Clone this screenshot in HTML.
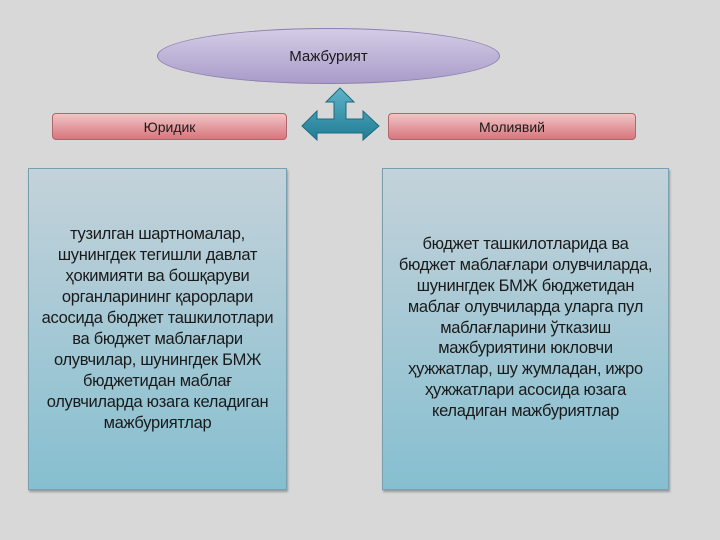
<!DOCTYPE html>
<html><head><meta charset="utf-8"><style>
body{margin:0;width:720px;height:540px;background:#d8d8d8;position:relative;overflow:hidden;font-family:"Liberation Sans","DejaVu Sans",sans-serif;color:#1a1a1a}
.ell{position:absolute;left:157px;top:28px;width:343px;height:56px;border-radius:50%;background:linear-gradient(#d4cce6,#a99cc9);border:1px solid #8c80b0;box-sizing:border-box;display:flex;align-items:center;justify-content:center;font-size:15px}
.tab{position:absolute;top:113px;height:27px;border-radius:4px;background:linear-gradient(#f2c4c6,#d7767c);border:1px solid #b0666a;box-sizing:border-box;display:flex;align-items:center;justify-content:center;font-size:14px}
.box{position:absolute;top:168px;height:322px;background:linear-gradient(#c4d2da,#86bfd0);border:1px solid #7aa0b0;box-sizing:border-box;box-shadow:1px 2px 2px #999;display:flex;align-items:center;justify-content:center;text-align:center;font-size:16.5px;line-height:20.9px;white-space:nowrap}
</style></head><body>
<div class="ell">Мажбурият</div>
<div class="tab" style="left:52px;width:235px">Юридик</div>
<div class="tab" style="left:388px;width:248px">Молиявий</div>
<svg style="position:absolute;left:300px;top:86px" width="82" height="56">
<defs><linearGradient id="g" x1="0" y1="0" x2="0" y2="1"><stop offset="0" stop-color="#5fb3c8"/><stop offset="1" stop-color="#1f7d95"/></linearGradient></defs>
<path d="M40 2 L54 16 L46 16 L46 33 L63 33 L63 25 L79 40 L63 54 L63 47 L17 47 L17 54 L2 40 L17 25 L17 33 L34 33 L34 16 L26 16 Z" fill="url(#g)" stroke="#1b6a80" stroke-width="1"/>
</svg>
<div class="box" style="left:28px;width:259px"><div style="margin-top:0;letter-spacing:-0.3px">тузилган шартномалар,<br>шунингдек тегишли давлат<br>ҳокимияти ва бошқаруви<br>органларининг қарорлари<br>асосида бюджет ташкилотлари<br>ва бюджет маблағлари<br>олувчилар, шунингдек БМЖ<br>бюджетидан маблағ<br>олувчиларда юзага келадиган<br>мажбуриятлар</div></div>
<div class="box" style="left:382px;width:287px"><div style="margin-top:-2px;letter-spacing:-0.3px">бюджет ташкилотларида ва<br>бюджет маблағлари олувчиларда,<br>шунингдек БМЖ бюджетидан<br>маблағ олувчиларда уларга пул<br>маблағларини ўтказиш<br>мажбуриятини юкловчи<br>ҳужжатлар, шу жумладан, ижро<br>ҳужжатлари асосида юзага<br>келадиган мажбуриятлар</div></div>
</body></html>
